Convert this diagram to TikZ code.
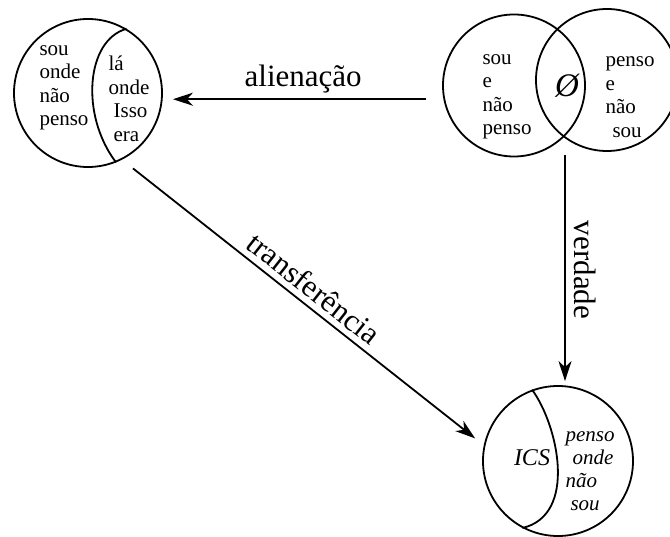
\documentclass[tikz,border=0pt]{standalone}
\usepackage{fontspec}
\setmainfont{Liberation Serif}
\usetikzlibrary{arrows.meta, positioning, calc}

\begin{document}
\begin{tikzpicture}[
                    x=1pt, y=-1pt,
                    >={Stealth[length=20pt, width=13pt, inset=6pt]},
                    ring/.style={circle, draw, line width=1.8pt, inner sep=0pt},
                    inner/.style={line width=1.8pt},
                    arr/.style={->, line width=1.8pt},
                    txt/.style={align=left, inner sep=0pt, font=\fontsize{21}{23.5}\selectfont},
                    itxt/.style={txt, font=\fontsize{21}{23}\selectfont\itshape},
                    lbl/.style={inner sep=0pt, font=\fontsize{31}{36}\selectfont},
                ]
                \useasboundingbox (0,0) rectangle (670,537);

                % left circle
                \node[ring, minimum size=148pt] (lc) at (88,93) {};
                \draw[inner] (lc.59) .. controls (86,40) and (80,115) .. (lc.-68);
                \node[txt] (lcl) at (64,88) {sou\\onde\\não\\penso};
                \node[txt] (lcr) at (129,99) {lá\\onde\\\hspace{5pt}Isso\\\hspace{5pt}era};

                % venn, top right
                \node[ring, minimum size=142pt] (vl) at (514,85.5) {};
                \node[ring, minimum size=142pt] (vr) at (607,80) {};
                \node[txt] (vll) at (507,97) {sou\\e\\não\\penso};
                \node[inner sep=0pt, font=\fontsize{33}{33}\selectfont\itshape] (vm) at (567,86) {Ø};
                \node[txt] (vrr) at (630,97) {penso\\e\\não\\\hspace{7pt}sou};

                % bottom circle
                \node[ring, minimum size=150pt] (bc) at (558,461) {};
                \draw[inner] (bc.110) .. controls (558,425) and (578,515) .. (bc.-118);
                \node[inner sep=0pt, font=\fontsize{24}{24}\selectfont\itshape] (ics) at (532,458) {ICS};
                \node[itxt] (bcr) at (590,471) {penso\\\hspace{7pt}onde\\não\\\hspace{5pt}sou};

                % arrows
                \coordinate (v0) at (565,155);
                \draw[arr, shorten <=17pt, shorten >=10pt] (vl.191) -- (vl.191 -| lc.east)
                        node[lbl, midway, above=5pt] {alienação};
                \draw[arr, shorten >=4pt] (v0) -- (v0 |- bc.north)
                        node[lbl, midway, sloped, above=8pt] {verdade};
                \draw[arr, shorten <=14pt, shorten >=11pt] (lc.-63) -- (bc.168)
                        node[lbl, midway, sloped, above=6pt] {transferência};
\end{tikzpicture}
\end{document}
